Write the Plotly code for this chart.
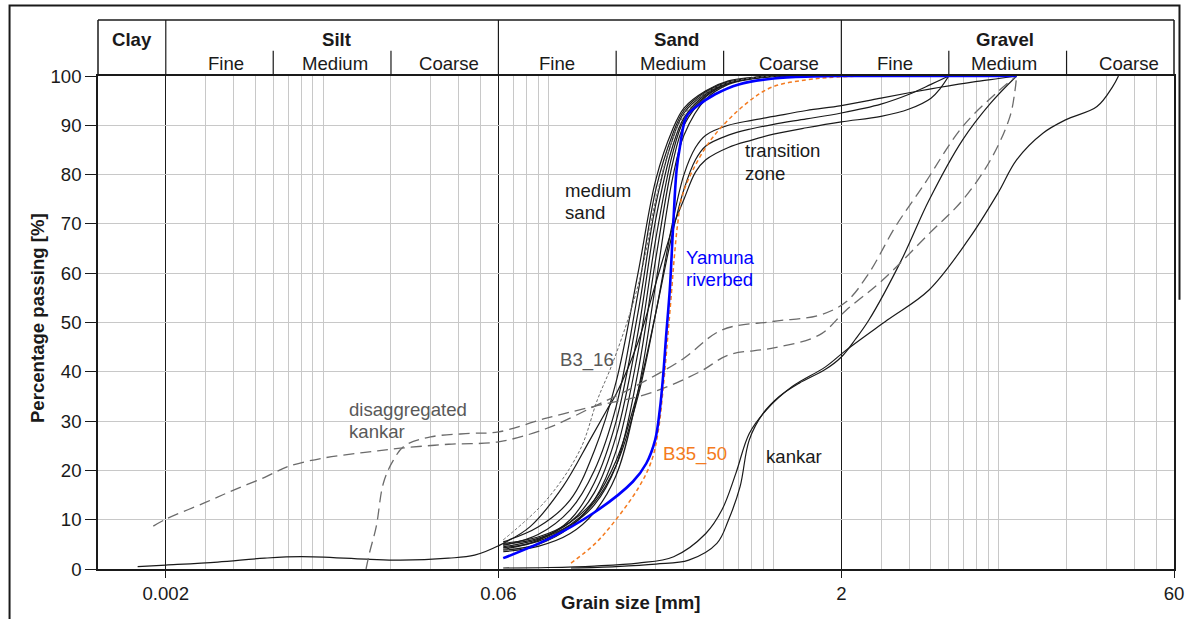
import math
import plotly.graph_objects as go

# ---------------- axis / classification setup ----------------
class_bounds = [0.002, 0.06, 2.0]                 # clay | silt | sand | gravel
sub_bounds = [0.006, 0.02, 0.2, 0.6, 6.0, 20.0]    # fine | medium | coarse
x_tick_vals = [0.002, 0.06, 2, 60]
x_tick_text = ["0.002", "0.06", "2", "60"]
y_tick_vals = [0, 10, 20, 30, 40, 50, 60, 70, 80, 90, 100]

main_labels = ["Clay", "Silt", "Sand", "Gravel"]
main_label_x = [0.00142, 0.0115, 0.371, 10.7]
sub_labels = ["Fine", "Medium", "Coarse", "Fine", "Medium", "Coarse", "Fine", "Medium", "Coarse"]
sub_label_x = [0.0037, 0.0113, 0.0362, 0.1095, 0.358, 1.166, 3.456, 10.57, 37.9]

# ---------------- grain size distributions ----------------
# medium sand samples
sand_x = [0.063, 0.09, 0.125, 0.16, 0.2, 0.25, 0.3, 0.355, 0.4, 0.5, 0.63, 0.8, 1.0, 2.0]
medium_sand_1 = [5.5, 8.5, 14, 24, 38, 60, 79, 89, 93.5, 97, 99, 99.7, 100, 100]
medium_sand_2 = [4.8, 7.0, 12, 20, 33, 56, 77, 88, 93, 96.8, 98.8, 99.6, 100, 100]
medium_sand_3 = [4.0, 5.8, 10, 17.5, 30, 52, 74, 87, 92.5, 96.5, 98.7, 99.6, 99.9, 100]
medium_sand_4 = [5.0, 6.2, 9.5, 15.5, 27, 48, 71, 85.5, 91.5, 96.3, 98.6, 99.5, 99.9, 100]
medium_sand_5 = [3.8, 5.0, 8.5, 14, 24, 44, 67, 84, 91, 96, 98.5, 99.5, 99.9, 100]
medium_sand_6 = [4.3, 5.6, 8.8, 13, 21, 40, 63, 82, 90, 95.8, 98.5, 99.5, 99.9, 100]
medium_sand_7 = [3.5, 4.6, 7.2, 11.5, 19, 36, 58, 79, 88, 95.3, 98.3, 99.4, 99.9, 100]

# transition zone samples
transition_1_x = [0.063, 0.09, 0.125, 0.16, 0.2, 0.25, 0.3, 0.355, 0.4, 0.45, 0.5, 0.63, 0.8,
                  1.0, 1.4, 2.0, 3.0, 4.0, 5.0, 6.0]
transition_1_y = [5.2, 6.5, 9.5, 14, 22, 36, 52, 68, 77, 83, 85.8, 88, 89.3,
                  90.2, 91.3, 92.5, 94.3, 96.3, 98.3, 100]
transition_2_x = [0.0015, 0.002, 0.0034, 0.0055, 0.008, 0.0155, 0.022, 0.036, 0.047, 0.06,
                  0.083, 0.116, 0.153, 0.182, 0.2, 0.25, 0.3, 0.355, 0.4, 0.45, 0.5, 0.63,
                  0.8, 1.0, 1.4, 2.0, 3.0, 4.0, 5.0, 5.5, 6.0]
transition_2_y = [0.5, 0.8, 1.4, 2.2, 2.5, 2.0, 1.8, 2.2, 2.8, 4.7,
                  8.6, 16.7, 26.2, 32.3, 35.5, 46, 58, 69, 75, 80.5, 83, 85.5,
                  87, 88.2, 89.5, 90.7, 91.8, 93.3, 95.5, 97.5, 100]
transition_3_x = [0.063, 0.09, 0.125, 0.16, 0.2, 0.25, 0.3, 0.355, 0.4, 0.45, 0.5, 0.63, 0.8,
                  1.0, 1.4, 2.0, 3.0, 4.0, 5.0, 6.0, 8.0, 10.0, 12.0]
transition_3_y = [4.5, 6.0, 9, 13.5, 21, 35, 52, 70, 80, 85.5, 88, 90, 91,
                  91.8, 93, 94, 95.5, 96.6, 97.4, 98, 98.9, 99.5, 100]

# kankar samples
kankar_1_x = [0.063, 0.1, 0.16, 0.25, 0.36, 0.5, 0.59, 0.68, 0.78, 0.93, 1.21, 1.7, 2.1,
              3.2, 4.9, 7.3, 9.9, 12, 15.7, 19.8, 27.3, 32, 34]
kankar_1_y = [0.2, 0.3, 0.6, 1.2, 2.5, 7.2, 12, 19.4, 27.5, 32.3, 37, 41, 44.4,
              50.5, 56.6, 66.7, 76.2, 83, 88.4, 91.1, 93.8, 97.8, 100]
kankar_2_x = [0.126, 0.2, 0.3, 0.42, 0.56, 0.63, 0.71, 0.78, 0.9, 1.06, 1.3, 1.7, 2.0,
              2.3, 2.65, 3.7, 4.9, 6.9, 9.2, 12]
kankar_2_y = [0.2, 0.5, 1.0, 1.8, 5.2, 9.9, 16.7, 26.2, 31.6, 35, 37.7, 40.5, 43,
              46.5, 50.5, 62.7, 74.8, 87, 94.5, 100]

# disaggregated kankar samples
disagg_1_x = [0.00176, 0.002, 0.003, 0.004, 0.0055, 0.007, 0.01, 0.015, 0.022, 0.036, 0.06,
              0.098, 0.16, 0.23, 0.39, 0.59, 0.99, 1.6, 2.1, 2.65, 3.47, 4.6, 6.9, 9.9, 12]
disagg_1_y = [8.7, 10.1, 13.5, 16, 18.6, 20.8, 22.5, 23.6, 24.5, 25.3, 25.8,
              28.5, 33, 36.5, 42.4, 48.5, 50.2, 51.5, 54.2, 60, 69.4, 77.6, 89.7, 96.8, 100]
disagg_2_x = [0.0155, 0.016, 0.0172, 0.0185, 0.0205, 0.023, 0.03, 0.045, 0.06, 0.098, 0.16,
              0.28, 0.47, 0.63, 0.99, 1.6, 2.1, 3.05, 4.9, 6.9, 9.2, 11.2, 11.8, 12]
disagg_2_y = [0, 3, 8.6, 17.4, 22.1, 25, 26.8, 27.5, 27.8, 30.6, 33,
              35.6, 40, 43.4, 44.8, 47.5, 52.5, 58.6, 68, 74.8, 83, 91.7, 97, 100]

# borehole samples
b3_16_x = [0.063, 0.098, 0.138, 0.165, 0.19, 0.22, 0.245, 0.27, 0.3, 0.355, 0.4, 0.5, 0.63, 0.8, 1.0, 2.0]
b3_16_y = [5.9, 14, 24.1, 34.3, 41, 49.1, 56, 64, 75, 87, 92, 96.5, 98.7, 99.6, 100, 100]
b35_50_x = [0.126, 0.16, 0.194, 0.253, 0.288, 0.308, 0.325, 0.34, 0.352, 0.362, 0.375, 0.392,
            0.438, 0.54, 0.76, 0.99, 1.4, 1.9, 4.0]
b35_50_y = [1.2, 5, 9.3, 16.7, 22.1, 28.2, 37.7, 47.8, 56, 63, 70, 75.5,
            80.9, 87.7, 94.5, 97.8, 99.2, 99.8, 100]

# Yamuna riverbed
yamuna_x = [0.063, 0.098, 0.158, 0.237, 0.272, 0.298, 0.3125, 0.323, 0.334, 0.346, 0.358, 0.371,
            0.384, 0.41, 0.455, 0.55, 0.7, 1.0, 1.5, 2.0, 12]
yamuna_y = [2.2, 5.9, 11.3, 17.7, 21.4, 26.2, 32.3, 39, 47.8, 56.6, 69.4, 80.9,
            85.7, 91.7, 93.8, 96.3, 98.3, 99.5, 99.9, 100, 100]

# ---------------- styling ----------------
FONT = "Liberation Sans, Arial, sans-serif"
FS = 18.6
BLACK = "#1a1a1a"
GREY_TXT = "#595959"
DASH_GREY = "#6b6b6b"
ORANGE = "#f47b20"
BLUE = "#0000ff"
GRID = "#c8c8c8"

fig = go.Figure()


def curve(x, y, color=BLACK, width=1.2, dash="solid"):
    fig.add_trace(go.Scatter(
        x=x, y=y, mode="lines",
        line=dict(color=color, width=width, dash=dash, shape="spline", smoothing=1.0),
        hoverinfo="skip", showlegend=False))


for ys in [medium_sand_1, medium_sand_2, medium_sand_3, medium_sand_4,
           medium_sand_5, medium_sand_6, medium_sand_7]:
    curve(sand_x, ys)
curve(transition_1_x, transition_1_y)
curve(transition_2_x, transition_2_y)
curve(transition_3_x, transition_3_y)
curve(kankar_1_x, kankar_1_y)
curve(kankar_2_x, kankar_2_y)
curve(disagg_1_x, disagg_1_y, DASH_GREY, 1.3, "11px,6px")
curve(disagg_2_x, disagg_2_y, DASH_GREY, 1.3, "11px,6px")
curve(b3_16_x, b3_16_y, DASH_GREY, 1.0, "3px,2px")
curve(b35_50_x, b35_50_y, ORANGE, 1.5, "4px,3px")
curve(yamuna_x, yamuna_y, BLUE, 2.6)

# ---------------- grid lines ----------------
minor_vals = []
for e in range(-3, 2):
    for m in range(1, 10):
        v = m * 10.0 ** e
        if 0.001 < v < 60 and all(abs(v - c) / c > 1e-6 for c in class_bounds):
            minor_vals.append(v)

X0, X1 = math.log10(0.001), math.log10(60)

fig.update_xaxes(
    type="log", range=[X0, X1], automargin=False,
    tickmode="array", tickvals=x_tick_vals, ticktext=x_tick_text,
    ticks="outside", ticklen=7, tickcolor=BLACK, tickwidth=1.2,
    showgrid=True, gridcolor=BLACK, gridwidth=1.2,
    minor=dict(tickmode="array", tickvals=minor_vals, showgrid=True,
               gridcolor=GRID, gridwidth=1.3, ticks=""),
    showline=True, linecolor=BLACK, linewidth=1.5, mirror=True,
    tickfont=dict(family=FONT, size=FS, color=BLACK),
    zeroline=False,
)
fig.update_yaxes(
    range=[0, 100], automargin=False, tickmode="array", tickvals=y_tick_vals,
    ticks="outside", ticklen=11, tickcolor=BLACK, tickwidth=1.2,
    showgrid=True, gridcolor=GRID, gridwidth=1.3,
    showline=True, linecolor=BLACK, linewidth=1.5, mirror=True,
    tickfont=dict(family=FONT, size=FS, color=BLACK),
    zeroline=False,
)

# ---------------- classification header ----------------
H_TOP = 1.1136
H_SUB = 1.0513
shapes = []
shapes.append(dict(type="line", xref="paper", yref="paper", x0=0, x1=1, y0=H_TOP, y1=H_TOP,
                   line=dict(color=BLACK, width=1.5)))
for xp in (0, 1):
    shapes.append(dict(type="line", xref="paper", yref="paper", x0=xp, x1=xp, y0=1, y1=H_TOP,
                       line=dict(color=BLACK, width=1.5)))
for c in class_bounds:
    shapes.append(dict(type="line", xref="x", yref="paper", x0=c, x1=c, y0=1, y1=H_TOP,
                       line=dict(color=BLACK, width=1.2)))
for s in sub_bounds:
    shapes.append(dict(type="line", xref="x", yref="paper", x0=s, x1=s, y0=1, y1=H_SUB,
                       line=dict(color=BLACK, width=1.2)))
# outer frame (left and top edges, upper part of the right edge)
shapes.append(dict(type="path", xref="paper", yref="paper",
                   path="M -0.0822,-0.2 L -0.0822,1.1430 L 1.0051,1.1430 L 1.0051,0.546",
                   line=dict(color=BLACK, width=2)))

annotations = []
for lab, xv in zip(main_labels, main_label_x):
    annotations.append(dict(x=math.log10(xv), y=1.0744, xref="x", yref="paper", text=f"<b>{lab}</b>",
                            showarrow=False, xanchor="center", yanchor="middle",
                            font=dict(family=FONT, size=FS, color=BLACK)))
for lab, xv in zip(sub_labels, sub_label_x):
    annotations.append(dict(x=math.log10(xv), y=1.0258, xref="x", yref="paper", text=lab,
                            showarrow=False, xanchor="center", yanchor="middle",
                            font=dict(family=FONT, size=FS, color=BLACK)))

# axis titles
annotations.append(dict(x=0.4958, y=-0.0673, xref="paper", yref="paper", text="<b>Grain size [mm]</b>",
                        showarrow=False, xanchor="center", yanchor="middle",
                        font=dict(family=FONT, size=FS, color=BLACK)))
annotations.append(dict(x=-0.0567, y=0.509, xref="paper", yref="paper",
                        text="<b>Percentage passing [%]</b>", textangle=-90,
                        showarrow=False, xanchor="center", yanchor="middle",
                        font=dict(family=FONT, size=FS, color=BLACK)))

# curve labels, one entry per text line
curve_labels = [
    ("medium", 0.1162, 76.7, BLACK),
    ("sand", 0.1162, 72.3, BLACK),
    ("transition", 0.7324, 84.8, BLACK),
    ("zone", 0.7324, 80.3, BLACK),
    ("Yamuna", 0.3995, 63.2, BLUE),
    ("riverbed", 0.3995, 58.8, BLUE),
    ("B3_16", 0.1104, 42.4, GREY_TXT),
    ("B35_50", 0.3157, 23.3, ORANGE),
    ("kankar", 0.908, 22.8, BLACK),
    ("disaggregated", 0.01281, 32.4, GREY_TXT),
    ("kankar", 0.01281, 27.9, GREY_TXT),
]
for txt, xv, yv, col in curve_labels:
    annotations.append(dict(x=math.log10(xv), y=yv, xref="x", yref="y", text=txt,
                            showarrow=False, xanchor="left", yanchor="middle", align="left",
                            font=dict(family=FONT, size=FS, color=col)))

fig.update_layout(
    width=1190, height=619,
    margin=dict(l=98, r=16, t=76, b=50, autoexpand=False),
    paper_bgcolor="white", plot_bgcolor="white",
    shapes=shapes, annotations=annotations,
    showlegend=False,
)

fig.write_html("out.html")
